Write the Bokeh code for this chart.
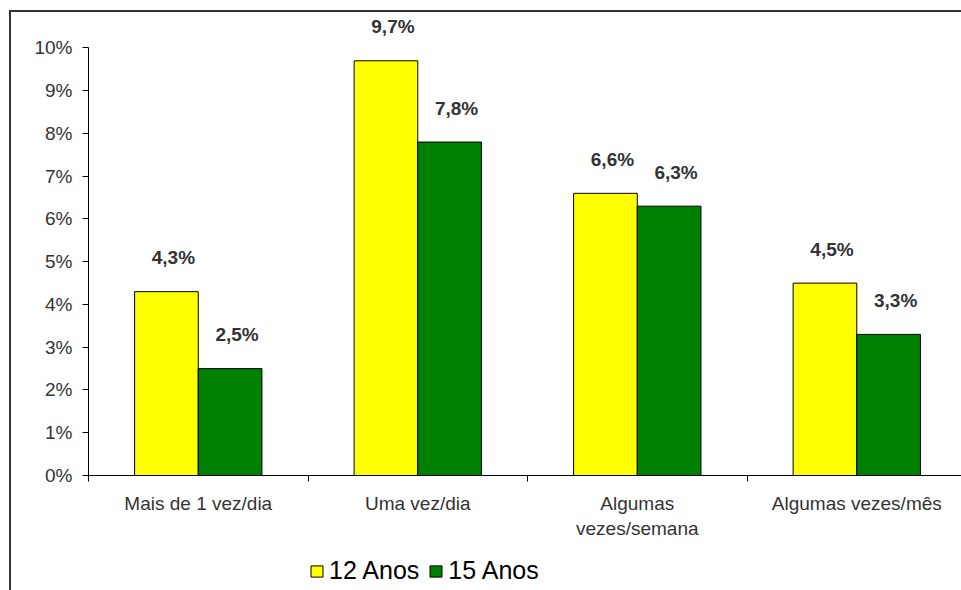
from bokeh.plotting import figure
from bokeh.layouts import column
from bokeh.models import (ColumnDataSource, FixedTicker, Legend, LegendItem, Range1d)
from bokeh.core.properties import value
from bokeh.embed import file_html
from bokeh.resources import INLINE

categories = ["Mais de 1 vez/dia", "Uma vez/dia", "Algumas\nvezes/semana", "Algumas vezes/mês"]
series_names = ["12 Anos", "15 Anos"]
values_12 = [4.3, 9.7, 6.6, 4.5]
values_15 = [2.5, 7.8, 6.3, 3.3]
label_12 = ["4,3%", "9,7%", "6,6%", "4,5%"]
label_15 = ["2,5%", "7,8%", "6,3%", "3,3%"]
y_ticks = list(range(0, 11))
y_tick_labels = [f"{t}%" for t in y_ticks]

FONT = "Liberation Sans"
TEXT = "#333333"
BAR_W = 0.29
YELLOW = "#FFFF00"
GREEN = "#008000"

centers = [i + 0.5 for i in range(len(categories))]
src12 = ColumnDataSource(dict(x=[c - BAR_W / 2 for c in centers], top=values_12, lab=label_12))
src15 = ColumnDataSource(dict(x=[c + BAR_W / 2 for c in centers], top=values_15, lab=label_15))

p = figure(width=961, height=548, output_backend="svg", toolbar_location=None,
           x_range=Range1d(0, 3.977), y_range=Range1d(0, 10.83),
           min_border_left=88, min_border_right=0, min_border_top=12, min_border_bottom=73)
p.background_fill_color = "white"
p.border_fill_alpha = 0
p.outline_line_color = None
p.grid.visible = False

p.vbar(x="x", top="top", width=BAR_W, source=src12, fill_color=YELLOW,
       line_color="black", line_width=1)
p.vbar(x="x", top="top", width=BAR_W, source=src15, fill_color=GREEN,
       line_color="black", line_width=1)

for src in (src12, src15):
    p.text(x="x", y="top", text="lab", source=src, text_font=value(FONT),
           text_font_size="19px", text_font_style="bold", text_color=TEXT,
           text_align="center", text_baseline="middle", x_offset=7, y_offset=-34)

# x axis
xa = p.xaxis[0]
xa.ticker = FixedTicker(ticks=centers, minor_ticks=list(range(0, len(categories) + 1)))
xa.major_label_overrides = {c: lab for c, lab in zip(centers, categories)}
xa.major_tick_out = 0
xa.major_tick_in = 0
xa.minor_tick_out = 6
xa.minor_tick_in = 0
xa.minor_tick_line_color = "black"
xa.axis_line_color = "black"
xa.major_label_text_font = FONT
xa.major_label_text_font_size = "19px"
xa.major_label_text_color = TEXT
xa.major_label_standoff = 11

# y axis
ya = p.yaxis[0]
ya.bounds = (0, 10)
ya.ticker = FixedTicker(ticks=y_ticks, minor_ticks=[])
ya.major_label_overrides = {t: l for t, l in zip(y_ticks, y_tick_labels)}
ya.major_tick_out = 6
ya.major_tick_in = 0
ya.major_tick_line_color = "black"
ya.axis_line_color = "black"
ya.major_label_text_font = FONT
ya.major_label_text_font_size = "19px"
ya.major_label_text_color = TEXT
ya.major_label_standoff = 10

# legend strip
p2 = figure(width=961, height=42, output_backend="svg", toolbar_location=None,
            x_range=Range1d(0, 1), y_range=Range1d(0, 1),
            x_axis_location=None, y_axis_location=None,
            min_border_left=88, min_border_right=0, min_border_top=0, min_border_bottom=0)
p2.outline_line_color = None
p2.grid.visible = False
p2.background_fill_alpha = 0
p2.border_fill_alpha = 0
l12 = p2.vbar(x=[0.5], bottom=[0.5], top=[0.5], width=0, fill_color=YELLOW, line_color="black")
l15 = p2.vbar(x=[0.5], bottom=[0.5], top=[0.5], width=0, fill_color=GREEN, line_color="black")
legend = Legend(items=[LegendItem(label=series_names[0], renderers=[l12]),
                       LegendItem(label=series_names[1], renderers=[l15])],
                orientation="horizontal", location=(221, 5),
                label_text_font=FONT, label_text_font_size="25px",
                label_text_color="black", glyph_width=15, glyph_height=14,
                label_standoff=5, spacing=9, padding=0, margin=0,
                border_line_color=None, background_fill_alpha=0)
p2.add_layout(legend, "center")

layout = column(p, p2, spacing=0,
                styles={"box-shadow": "inset 9px 10px 0 0 #ffffff, inset 11px 12px 0 0 #333333"})

open("out.html", "w").write(file_html(layout, INLINE))
